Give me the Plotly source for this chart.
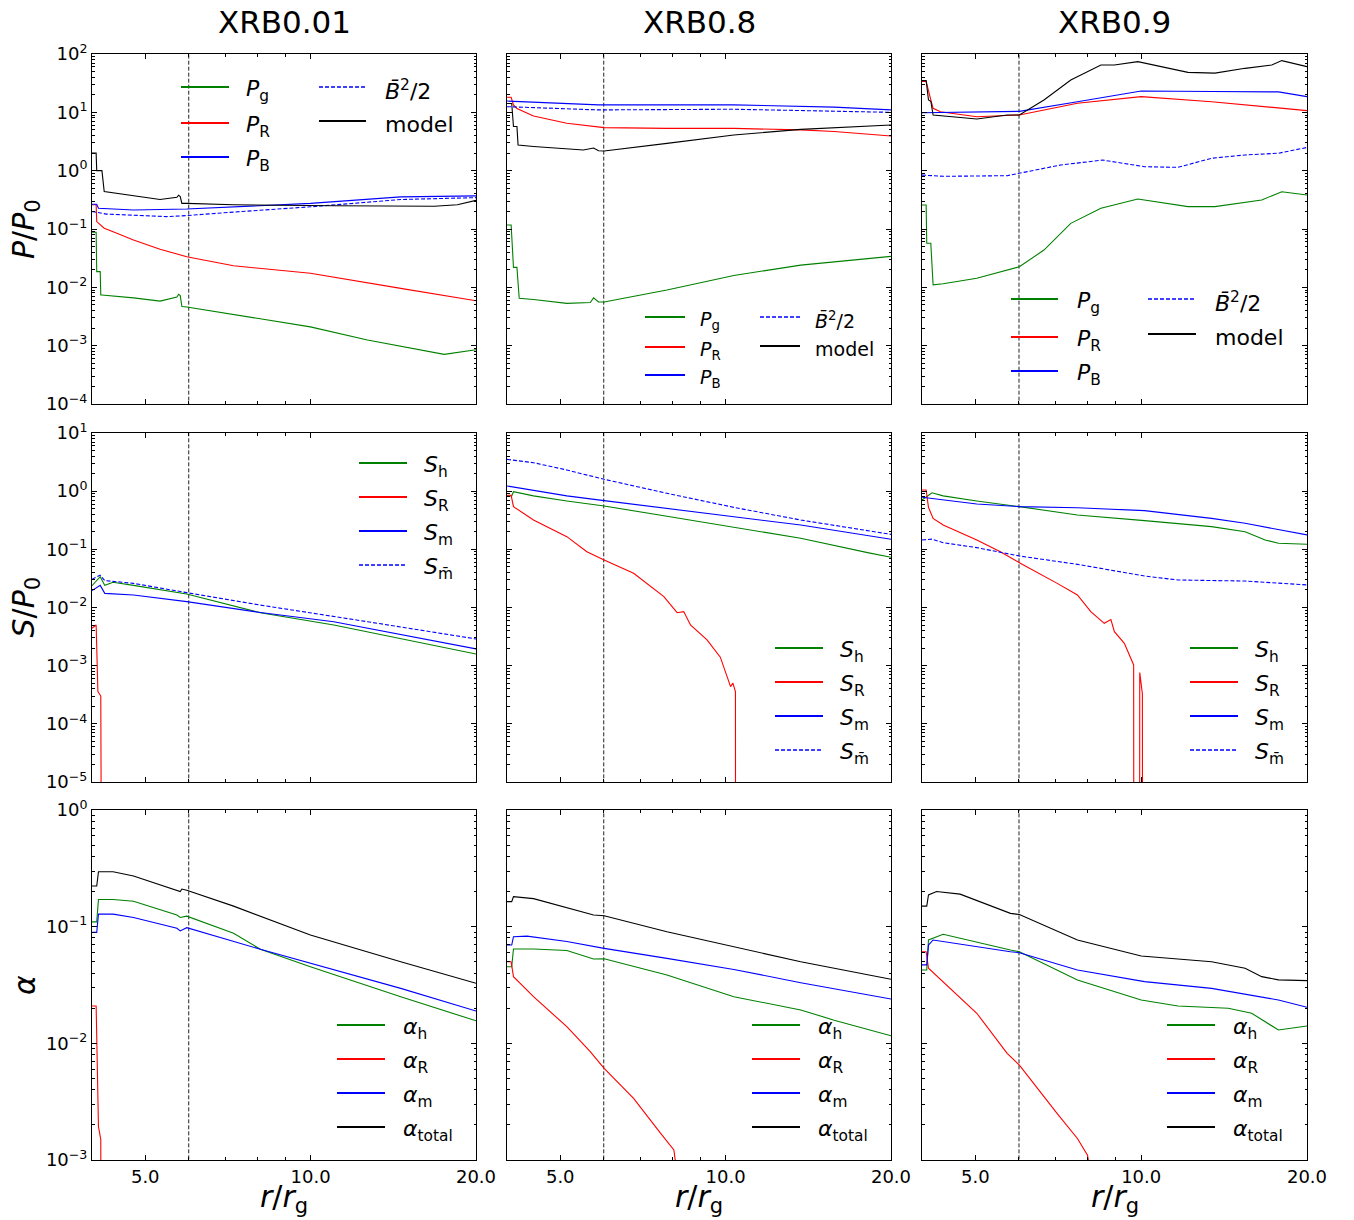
import math
import plotly.graph_objects as go

# ---------------- data ----------------
TITLES = ["XRB0.01", "XRB0.8", "XRB0.9"]
R_ISCO = 6.0
X_TICKVALS = [5, 10, 20]
X_TICKTEXT = ["5.0", "10.0", "20.0"]
X_MINOR = [6, 7, 8, 9]
ROW_DECADES = [(-4, 2), (-5, 1), (-3, 0)]

# ---- Row 1 : P / P0 ----
# XRB0.01
R_P1_G = [4.0, 4.07, 4.08, 4.14, 4.15, 4.17, 4.76, 5.32, 5.71, 5.75, 5.79, 5.83, 5.95, 7.24, 9.99, 12.69, 14.59, 17.5, 20.0]
P1_G = [0.088, 0.088, 0.0186, 0.0186, 0.0074, 0.0074, 0.0066, 0.0058, 0.0068, 0.0076, 0.0072, 0.0047, 0.0046, 0.0034, 0.0021, 0.00125, 0.00098, 0.00071, 0.00085]
R_P1_R = [4.0, 4.07, 4.08, 4.21, 4.37, 4.76, 5.32, 5.95, 7.24, 9.99, 14.59, 20.0]
P1_R = [0.26, 0.26, 0.134, 0.103, 0.09, 0.065, 0.045, 0.0335, 0.0234, 0.0174, 0.0096, 0.0059]
R_P1_B = [4.0, 4.08, 4.11, 4.76, 5.95, 7.24, 9.99, 14.59, 20.0]
P1_B = [0.265, 0.265, 0.226, 0.212, 0.22, 0.24, 0.275, 0.355, 0.37]
R_P1_BB = [4.0, 4.11, 4.25, 5.47, 5.95, 7.24, 9.99, 14.59, 20.0]
P1_BB = [0.2, 0.19, 0.18, 0.163, 0.17, 0.195, 0.24, 0.32, 0.345]
R_P1_M = [4.0, 4.07, 4.08, 4.17, 4.21, 4.37, 5.32, 5.71, 5.75, 5.79, 5.83, 5.95, 7.24, 11.02, 16.79, 18.5, 20.0]
P1_M = [2.0, 2.0, 1.0, 1.0, 0.44, 0.42, 0.32, 0.35, 0.38, 0.36, 0.275, 0.275, 0.26, 0.25, 0.245, 0.26, 0.31]
# XRB0.8
R_P2_G = [4.0, 4.07, 4.11, 4.17, 4.21, 4.47, 5.14, 5.67, 5.75, 5.87, 6.01, 7.82, 10.35, 13.7, 20.0]
P2_G = [0.117, 0.117, 0.022, 0.022, 0.0065, 0.0062, 0.0053, 0.0055, 0.0066, 0.0056, 0.0056, 0.009, 0.016, 0.024, 0.034]
R_P2_R = [4.0, 4.07, 4.11, 4.17, 4.47, 5.14, 6.01, 7.82, 10.35, 13.7, 15.76, 20.0]
P2_R = [18.1, 18.1, 13.4, 11.6, 8.65, 6.5, 5.46, 5.3, 5.3, 5.0, 4.7, 3.93]
R_P2_B = [4.0, 5.87, 10.35, 15.76, 20.0]
P2_B = [15.6, 13.4, 13.4, 12.3, 11.0]
R_P2_BB = [4.0, 5.87, 10.35, 20.0]
P2_BB = [12.5, 11.0, 11.3, 10.0]
R_P2_M = [4.0, 4.08, 4.11, 4.17, 4.19, 4.47, 5.51, 5.75, 5.87, 6.01, 7.82, 10.35, 13.7, 20.0]
P2_M = [14.2, 14.2, 5.7, 5.7, 2.75, 2.6, 2.26, 2.45, 2.2, 2.17, 2.94, 4.09, 5.1, 6.06]
# XRB0.9
R_P3_G = [4.0, 4.07, 4.08, 4.15, 4.19, 4.37, 5.03, 5.71, 6.01, 6.66, 7.04, 7.45, 8.45, 9.86, 12.16, 13.61, 16.55, 18.0, 20.0]
P3_G = [0.258, 0.258, 0.057, 0.057, 0.011, 0.0115, 0.0143, 0.02, 0.0226, 0.0436, 0.074, 0.125, 0.226, 0.327, 0.242, 0.242, 0.314, 0.436, 0.383]
R_P3_R = [4.0, 4.07, 4.15, 4.19, 4.32, 5.03, 6.01, 7.66, 10.0, 13.42, 20.0]
P3_R = [33.9, 33.9, 16.3, 11.7, 10.2, 8.4, 9.0, 14.3, 18.6, 15.2, 10.7]
R_P3_B = [4.0, 6.01, 7.66, 10.0, 13.42, 17.75, 20.0]
P3_B = [9.86, 10.4, 15.2, 23.2, 22.8, 22.4, 18.6]
R_P3_BB = [4.0, 4.37, 5.71, 6.01, 7.14, 8.51, 10.14, 11.66, 13.42, 15.44, 17.75, 20.0]
P3_BB = [0.84, 0.80, 0.82, 0.9, 1.25, 1.52, 1.17, 1.14, 1.63, 1.86, 1.99, 2.5]
R_P3_M = [4.0, 4.07, 4.11, 4.15, 4.19, 5.03, 5.71, 6.01, 6.66, 7.45, 8.45, 8.94, 9.86, 12.16, 13.61, 15.44, 17.26, 18.0, 20.0]
P3_M = [34.9, 34.9, 16.3, 15.5, 9.0, 7.7, 9.0, 9.0, 16.3, 35.8, 64.8, 64.8, 74.0, 48.5, 47.0, 56.8, 64.8, 77.0, 60.6]

# ---- Row 2 : S / P0 ----
R_S1_H = [4.0, 4.14, 4.22, 4.37, 4.76, 5.95, 8.10, 11.02, 20.0]
S1_H = [0.0237, 0.0339, 0.024, 0.0271, 0.024, 0.0171, 0.00815, 0.005, 0.00159]
R_S1_M = [4.0, 4.14, 4.22, 4.76, 5.95, 8.10, 11.02, 20.0]
S1_M = [0.0195, 0.024, 0.0175, 0.0164, 0.0126, 0.0082, 0.0057, 0.00194]
R_S1_MB = [4.0, 4.14, 4.22, 4.76, 5.95, 8.10, 12.69, 20.0]
S1_MB = [0.0305, 0.036, 0.029, 0.026, 0.018, 0.011, 0.0057, 0.00288]
R_S1_R = [4.0, 4.07, 4.10, 4.15, 4.17]
S1_R = [0.0044, 0.005, 3.6e-4, 3.0e-4, 1e-9]

R_S2_H = [4.0, 4.08, 4.11, 4.47, 5.14, 6.01, 7.82, 10.35, 13.7, 18.13, 20.0]
S2_H = [0.83, 0.83, 0.98, 0.83, 0.678, 0.556, 0.37, 0.239, 0.155, 0.0877, 0.073]
R_S2_M = [4.0, 4.47, 5.14, 6.01, 7.82, 10.35, 13.7, 20.0]
S2_M = [1.23, 1.02, 0.83, 0.687, 0.507, 0.365, 0.262, 0.149]
R_S2_MB = [4.0, 4.47, 5.14, 6.01, 7.82, 10.35, 13.7, 20.0]
S2_MB = [3.52, 3.09, 2.31, 1.6, 0.919, 0.527, 0.319, 0.181]
R_S2_R = [4.0, 4.07, 4.11, 4.47, 5.14, 5.59, 6.01, 6.80, 7.72, 8.16, 8.39, 8.63, 9.25, 9.78, 10.21, 10.31, 10.42, 10.43]
S2_R = [0.85, 0.85, 0.542, 0.319, 0.165, 0.091, 0.0656, 0.0387, 0.0154, 0.00815, 0.0085, 0.005, 0.00277, 0.0014, 4.36e-4, 5e-4, 3.57e-4, 1e-9]

R_S3_H = [4.0, 4.17, 4.37, 5.03, 6.01, 7.66, 10.14, 13.42, 15.44, 16.79, 17.75, 20.0]
S3_H = [0.705, 0.94, 0.83, 0.678, 0.542, 0.389, 0.311, 0.246, 0.201, 0.145, 0.127, 0.122]
R_S3_M = [4.0, 4.37, 5.03, 6.01, 7.66, 10.14, 13.42, 15.44, 20.0]
S3_M = [0.784, 0.705, 0.603, 0.542, 0.52, 0.462, 0.341, 0.28, 0.177]
R_S3_MB = [4.0, 4.17, 4.37, 5.03, 6.01, 7.66, 10.14, 11.66, 15.44, 20.0]
S3_MB = [0.145, 0.15, 0.13, 0.107, 0.0768, 0.0552, 0.0348, 0.0297, 0.0285, 0.0244]
R_S3_R = [4.0, 4.07, 4.11, 4.19, 4.37, 5.03, 5.55, 6.01, 7.04, 7.66, 8.10, 8.57, 8.81, 8.94, 9.32, 9.69, 9.70, 9.93, 9.94, 10.05, 10.06]
S3_R = [1.05, 1.05, 0.527, 0.341, 0.262, 0.145, 0.091, 0.059, 0.026, 0.0164, 0.0085, 0.00534, 0.0062, 0.00384, 0.00242, 0.00103, 1e-9, 1e-9, 7.6e-4, 3.3e-4, 1e-9]

# ---- Row 3 : alpha ----
R_A1_T = [4.0, 4.08, 4.11, 4.37, 4.76, 5.71, 5.79, 5.83, 5.95, 7.24, 9.99, 14.59, 20.0]
A1_T = [0.223, 0.223, 0.296, 0.296, 0.272, 0.205, 0.2, 0.21, 0.205, 0.15, 0.0849, 0.05, 0.0327]
R_A1_H = [4.0, 4.08, 4.11, 4.37, 4.76, 5.71, 5.79, 5.95, 7.24, 8.10, 9.99, 14.59, 20.0]
A1_H = [0.11, 0.11, 0.171, 0.171, 0.165, 0.126, 0.12, 0.123, 0.0877, 0.064, 0.0454, 0.0251, 0.0156]
R_A1_M = [4.0, 4.08, 4.11, 4.37, 4.76, 5.71, 5.79, 5.95, 8.10, 9.99, 14.59, 20.0]
A1_M = [0.0894, 0.0894, 0.128, 0.128, 0.12, 0.0968, 0.092, 0.098, 0.064, 0.0485, 0.0296, 0.0189]
R_A1_R = [4.0, 4.07, 4.11, 4.15, 4.17]
A1_R = [0.0209, 0.0209, 0.00193, 0.0015, 1e-9]

R_A2_T = [4.0, 4.08, 4.11, 4.47, 5.75, 6.01, 7.82, 10.35, 13.7, 20.0]
A2_T = [0.164, 0.164, 0.181, 0.174, 0.126, 0.124, 0.0906, 0.0674, 0.05, 0.0354]
R_A2_M = [4.0, 4.08, 4.11, 4.35, 5.14, 6.01, 7.82, 10.35, 13.7, 20.0]
A2_M = [0.0696, 0.0696, 0.082, 0.083, 0.0745, 0.0652, 0.0535, 0.043, 0.0331, 0.024]
R_A2_H = [4.0, 4.08, 4.11, 4.47, 5.14, 5.75, 6.01, 7.82, 10.35, 13.7, 15.76, 20.0]
A2_H = [0.0454, 0.0454, 0.0644, 0.0644, 0.0625, 0.0528, 0.053, 0.0385, 0.0251, 0.0193, 0.0158, 0.0116]
R_A2_R = [4.0, 4.07, 4.11, 4.47, 5.14, 5.67, 6.01, 6.80, 7.61, 8.05, 8.12]
A2_R = [0.05, 0.05, 0.0373, 0.0251, 0.0139, 0.0085, 0.0061, 0.00338, 0.0017, 0.00122, 0.0009]

R_A3_T = [4.0, 4.08, 4.11, 4.25, 4.69, 5.79, 6.01, 7.66, 10.0, 13.42, 15.44, 16.55, 17.75, 20.0]
A3_T = [0.15, 0.15, 0.187, 0.2, 0.19, 0.13, 0.127, 0.0769, 0.0561, 0.05, 0.044, 0.0373, 0.035, 0.0345]
R_A3_H = [4.0, 4.08, 4.11, 4.37, 5.79, 6.01, 7.66, 10.0, 11.66, 14.39, 15.87, 17.75, 20.0]
A3_H = [0.0425, 0.0425, 0.0769, 0.086, 0.063, 0.061, 0.0349, 0.0235, 0.0209, 0.02, 0.0181, 0.013, 0.0141]
R_A3_M = [4.0, 4.08, 4.11, 4.19, 5.79, 6.01, 7.66, 10.14, 13.42, 17.75, 20.0]
A3_M = [0.047, 0.047, 0.0696, 0.0769, 0.061, 0.0598, 0.0425, 0.0338, 0.0296, 0.0235, 0.0204]
R_A3_R = [4.0, 4.07, 4.11, 4.37, 5.03, 5.71, 6.01, 7.04, 7.66, 7.99, 8.05]
A3_R = [0.061, 0.061, 0.044, 0.0338, 0.0181, 0.0082, 0.0065, 0.0025, 0.00153, 0.0011, 0.0009]

# ---------------- styling ----------------
FONT = "DejaVu Sans"
GREEN, RED, BLUE, BLACK = "#008000", "#ff0000", "#0000ff", "#000000"
DASH = "4px,2px"
W, H = 1354, 1220
COL_PX = [(92, 476), (507, 891), (922, 1307)]
ROW_PX = [(54, 404), (433, 782), (810, 1160)]

LABELS = {
    "Pg": ("<i>P</i><sub>g</sub>", GREEN, "solid"),
    "PR": ("<i>P</i><sub>R</sub>", RED, "solid"),
    "PB": ("<i>P</i><sub>B</sub>", BLUE, "solid"),
    "BB": ("<i>B\u0304</i><sup>2</sup>/2", BLUE, DASH),
    "model": ("model", BLACK, "solid"),
    "Sh": ("<i>S</i><sub>h</sub>", GREEN, "solid"),
    "SR": ("<i>S</i><sub>R</sub>", RED, "solid"),
    "Sm": ("<i>S</i><sub>m</sub>", BLUE, "solid"),
    "Smb": ("<i>S</i><sub>m\u0304</sub>", BLUE, DASH),
    "ah": ("<i>\u03b1</i><sub>h</sub>", GREEN, "solid"),
    "aR": ("<i>\u03b1</i><sub>R</sub>", RED, "solid"),
    "am": ("<i>\u03b1</i><sub>m</sub>", BLUE, "solid"),
    "at": ("<i>\u03b1</i><sub>total</sub>", BLACK, "solid"),
}

PANELS = {
    (0, 0): [(R_P1_G, P1_G, "Pg"), (R_P1_R, P1_R, "PR"), (R_P1_B, P1_B, "PB"), (R_P1_BB, P1_BB, "BB"), (R_P1_M, P1_M, "model")],
    (0, 1): [(R_P2_G, P2_G, "Pg"), (R_P2_R, P2_R, "PR"), (R_P2_B, P2_B, "PB"), (R_P2_BB, P2_BB, "BB"), (R_P2_M, P2_M, "model")],
    (0, 2): [(R_P3_G, P3_G, "Pg"), (R_P3_R, P3_R, "PR"), (R_P3_B, P3_B, "PB"), (R_P3_BB, P3_BB, "BB"), (R_P3_M, P3_M, "model")],
    (1, 0): [(R_S1_H, S1_H, "Sh"), (R_S1_R, S1_R, "SR"), (R_S1_M, S1_M, "Sm"), (R_S1_MB, S1_MB, "Smb")],
    (1, 1): [(R_S2_H, S2_H, "Sh"), (R_S2_R, S2_R, "SR"), (R_S2_M, S2_M, "Sm"), (R_S2_MB, S2_MB, "Smb")],
    (1, 2): [(R_S3_H, S3_H, "Sh"), (R_S3_R, S3_R, "SR"), (R_S3_M, S3_M, "Sm"), (R_S3_MB, S3_MB, "Smb")],
    (2, 0): [(R_A1_H, A1_H, "ah"), (R_A1_R, A1_R, "aR"), (R_A1_M, A1_M, "am"), (R_A1_T, A1_T, "at")],
    (2, 1): [(R_A2_H, A2_H, "ah"), (R_A2_R, A2_R, "aR"), (R_A2_M, A2_M, "am"), (R_A2_T, A2_T, "at")],
    (2, 2): [(R_A3_H, A3_H, "ah"), (R_A3_R, A3_R, "aR"), (R_A3_M, A3_M, "am"), (R_A3_T, A3_T, "at")],
}

# legend layout: (font size, [ (line x0 px from panel left, line length, text offset, [row y px from panel top], [keys]) ])
LEGENDS = {
    (0, 0): (22, [(89, 48, 65, [33, 69, 103], ["Pg", "PR", "PB"]), (227, 47, 66, [33, 67], ["BB", "model"])]),
    (0, 1): (19, [(138, 40, 55, [263, 293, 321], ["Pg", "PR", "PB"]), (253, 40, 55, [263, 292], ["BB", "model"])]),
    (0, 2): (22, [(89, 47, 66, [245, 283, 317], ["Pg", "PR", "PB"]), (226, 48, 67, [245, 280], ["BB", "model"])]),
    (1, 0): (22, [(267, 48, 65, [30, 64, 98, 132], ["Sh", "SR", "Sm", "Smb"])]),
    (1, 1): (22, [(268, 48, 65, [215, 249, 283, 317], ["Sh", "SR", "Sm", "Smb"])]),
    (1, 2): (22, [(268, 48, 65, [215, 249, 283, 317], ["Sh", "SR", "Sm", "Smb"])]),
    (2, 0): (22, [(245, 48, 66, [215, 249, 283, 317], ["ah", "aR", "am", "at"])]),
    (2, 1): (22, [(245, 48, 66, [215, 249, 283, 317], ["ah", "aR", "am", "at"])]),
    (2, 2): (22, [(245, 48, 66, [215, 249, 283, 317], ["ah", "aR", "am", "at"])]),
}

Y_TITLES = ["<i>P</i>/<i>P</i><sub>0</sub>", "<i>S</i>/<i>P</i><sub>0</sub>", "<i>\u03b1</i>"]
X_TITLE = "<i>r</i>/<i>r</i><sub>g</sub>"


def sup(e):
    return "10<sup>%s</sup>" % (str(e) if e >= 0 else "\u2212" + str(-e))


fig = go.Figure()
layout = dict(
    width=W, height=H, margin=dict(l=0, r=0, t=0, b=0, autoexpand=False),
    paper_bgcolor="white", plot_bgcolor="white",
    font=dict(family=FONT, color="black"), showlegend=False,
)
shapes, annotations = [], []

for (i, j), series in PANELS.items():
    k = 3 * i + j + 1
    sfx = "" if k == 1 else str(k)
    xref, yref = "x" + sfx, "y" + sfx
    lo, hi = ROW_DECADES[i]
    x0p, x1p = COL_PX[j]
    y0p, y1p = ROW_PX[i]

    # ISCO dashed line
    fig.add_trace(go.Scatter(x=[R_ISCO, R_ISCO], y=[10.0 ** (lo - 2), 10.0 ** (hi + 2)], mode="lines",
                             line=dict(color="#222222", width=1, dash="4px,2px"),
                             xaxis=xref, yaxis=yref, hoverinfo="skip"))
    for r, v, key in series:
        _, col, dash = LABELS[key]
        fig.add_trace(go.Scatter(x=r, y=v, mode="lines", line=dict(color=col, width=1.1, dash=dash),
                                 xaxis=xref, yaxis=yref, name=key))

    common_ax = dict(showline=True, linecolor="black", linewidth=1, mirror="ticks", ticks="inside",
                     tickcolor="black", tickwidth=1, showgrid=False, zeroline=False, automargin=False,
                     tickfont=dict(family=FONT, size=18, color="black"))
    layout["xaxis" + sfx] = dict(
        type="log", range=[math.log10(4), math.log10(20)], domain=[x0p / W, x1p / W], anchor=yref,
        tickmode="array", tickvals=X_TICKVALS, ticktext=X_TICKTEXT, ticklen=5,
        showticklabels=(i == 2),
        minor=dict(tickmode="array", tickvals=X_MINOR, ticks="inside", ticklen=3, tickcolor="black", showgrid=False),
        **common_ax)
    minor_y = [m * 10.0 ** e for e in range(lo, hi) for m in range(2, 10)]
    layout["yaxis" + sfx] = dict(
        type="log", range=[lo, hi], domain=[1 - y1p / H, 1 - y0p / H], anchor=xref,
        tickmode="array", tickvals=[10.0 ** e for e in range(lo, hi + 1)],
        ticktext=[sup(e) for e in range(lo, hi + 1)], ticklen=5,
        showticklabels=(j == 0),
        minor=dict(tickmode="array", tickvals=minor_y, ticks="inside", ticklen=2.5, tickcolor="black", showgrid=False),
        **common_ax)

    # legend drawn as line samples + text
    fs, cols = LEGENDS[(i, j)]
    pw, ph = x1p - x0p, y1p - y0p
    for lx, ll, toff, rows, keys in cols:
        for dy, key in zip(rows, keys):
            text, col, dash = LABELS[key]
            fy = 1 - dy / ph
            shapes.append(dict(type="line", xref=xref + " domain", yref=yref + " domain",
                               x0=lx / pw, x1=(lx + ll) / pw, y0=fy, y1=fy,
                               line=dict(color=col, width=2 if dash == "solid" else 1.3, dash=dash)))
            annotations.append(dict(xref=xref + " domain", yref=yref + " domain", x=(lx + toff - 2) / pw,
                                    y=1 - (dy + 3) / ph, text=text, showarrow=False, xanchor="left",
                                    yanchor="middle", font=dict(family=FONT, size=fs, color="black")))

# column titles
for j, t in enumerate(TITLES):
    x0p, x1p = COL_PX[j]
    annotations.append(dict(xref="paper", yref="paper", x=(x0p + x1p) / 2 / W, y=1 - 22 / H, text=t,
                            showarrow=False, xanchor="center", yanchor="middle",
                            font=dict(family=FONT, size=31, color="black")))
# y titles
for i, t in enumerate(Y_TITLES):
    y0p, y1p = ROW_PX[i]
    annotations.append(dict(xref="paper", yref="paper", x=25 / W, y=1 - (y0p + y1p) / 2 / H, text=t,
                            textangle=-90, showarrow=False, xanchor="center", yanchor="middle",
                            font=dict(family=FONT, size=30, color="black")))
# x titles
for j in range(3):
    x0p, x1p = COL_PX[j]
    annotations.append(dict(xref="paper", yref="paper", x=(x0p + x1p) / 2 / W, y=1 - 1198 / H, text=X_TITLE,
                            showarrow=False, xanchor="center", yanchor="middle",
                            font=dict(family=FONT, size=30, color="black")))

layout["shapes"] = shapes
layout["annotations"] = annotations
fig.update_layout(**layout)
fig.write_html("out.html")
